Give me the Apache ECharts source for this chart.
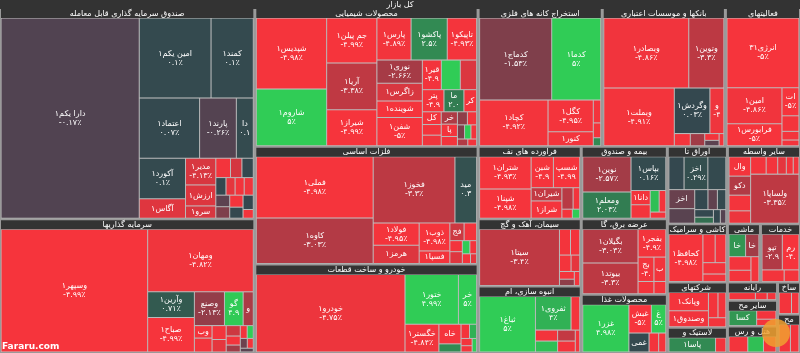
<!DOCTYPE html>
<html>
<head>
<meta charset="utf-8">
<script src="https://cdn.jsdelivr.net/npm/echarts@6/dist/echarts.min.js"></script>
<style>
html, body { margin: 0; padding: 0; background: #fff; }
#chart { width: 800px; height: 353px; }
</style>
</head>
<body>
<div id="chart"></div>
<script>
// every tile: [name, size, change %]; kept in the order the tiles are laid out
var etf = [
  ['دارا یکم۱', 27800, -0.17], ['امین یکم۱', 5767, 0.1], ['کمند۱', 3397, 0.1], ['اعتماد۱', 3648, 0.07],
  ['پارند۱', 2223, -0.26], ['دارا۱', 1026, 0.15], ['آکورد۱', 1887, 0.1], ['آگاس۱', 900, -4.33],
  ['مدیر۱', 812, -4.13], ['ارزش۱', 638, -4.28], ['سرو۱', 374, -4.12], ['', 286, -4.9],
  ['', 222, -4.0], ['', 222, 0.02], ['', 180, 0.05], ['', 161, -4.5], ['', 161, -4.9], ['', 161, -4.8],
  ['', 161, -0.5], ['', 161, -1.5], ['', 161, -4.9], ['', 148, 0.03], ['', 148, 0.01], ['', 90, -4.9]
];
var invest = [
  ['وسپهر۱', 18352, -4.99], ['ومهان۱', 6741, -4.82], ['وآرین۱', 1222, 0.71], ['صباح۱', 1645, -4.99],
  ['وصنعت۱', 1036, -2.13], ['گوهران۱', 644, 4.93], ['وسکاب۱', 350, -2.8], ['وبانک۱', 225, -4.9], ['', 250, -4.9],
  ['', 200, -4.9], ['', 180, -4.5], ['', 150, -3.8], ['', 130, -4.9], ['', 100, -2.5], ['', 90, -4.9],
  ['', 80, 5], ['', 70, -1], ['', 60, -4.9], ['', 50, -0.5]
];
var chem = [
  ['شپدیس۱', 4970, -4.98], ['شاروم۱', 3990, 5], ['جم پیلن۱', 2250, -4.99], ['آریا۱', 2350, -3.38],
  ['شیراز۱', 1800, -4.99], ['پارس۱', 1435, -4.89], ['پاکشو۱', 1517, 2.5], ['تاپیکو۱', 1230, -4.93],
  ['نوری۱', 1050, -2.66], ['زاگرس۱', 810, -4.13], ['شوینده۱', 750, -4.96], ['شفن۱', 1280, -5],
  ['قیر۱', 560, -4.9], ['', 560, 5], ['', 480, -4.2], ['پترول۱', 476, -4.9], ['مارون۱', 440, 2.03],
  ['کرماشا۱', 280, -4.9], ['کلر۱', 240, -4.9], ['', 200, -4.9], ['', 200, -4.8], ['خراسان۱', 200, -2.9],
  ['پارسان۱', 200, -4.9], ['', 150, -4.9], ['', 130, -2], ['', 120, -4.9], ['', 100, -1.5], ['', 90, 5],
  ['', 80, -4.9], ['', 70, -3], ['', 60, -4.9]
];
var metal = [
  ['فملی۱', 7254, -4.98], ['کاوه۱', 5382, -3.03], ['فخوز۱', 5478, -3.3], ['میدکو۱', 1452, 0.39],
  ['فولاد۱', 1035, -4.95], ['هرمز۱', 855, -4.28], ['ذوب۱', 870, -4.98], ['فسپا۱', 390, -4.9],
  ['فجر۱', 256, -3.8], ['', 224, -4.9], ['کویر۱', 140, -4.9], ['ارفع۱', 150, -4.3], ['', 100, 5],
  ['', 90, -4.9], ['', 80, -4.9], ['', 60, -4.5]
];
var auto = [
  ['خودرو۱', 11476, -4.75], ['ختور۱', 2650, 4.99], ['خرینگ۱', 900, 5], ['خگستر۱', 936, -4.84],
  ['خاهن۱', 432, -4.98], ['', 180, 2.5], ['', 120, -4.9], ['', 100, 4], ['', 80, -4.9], ['', 70, -4.9], ['', 60, 5]
];
var mining = [
  ['کدماج۱', 5904, -1.53], ['کدما۱', 4018, 5], ['کچاد۱', 3128, -4.92], ['کگل۱', 1440, -4.95],
  ['کنور۱', 630, -4.9], ['', 170, -4.9], ['', 110, -4.9], ['', 60, 2.5]
];
var bank = [
  ['وبصادر۱', 6090, -4.86], ['وتوین۱', 2520, -3.3], ['وبملت۱', 4161, -4.91], ['وگردش۱', 1653, 0.03],
  ['وپست۱', 651, -4.8], ['', 200, -4.9], ['', 180, -2.5], ['', 100, -4.9], ['', 80, -0.5], ['', 60, -4.9]
];
var finAux = [
  ['انرژی۳۱', 5106, -5], ['امین۱', 2016, -4.86], ['فرابورس۱', 1232, -5], ['اتوپر۱', 486, -5],
  ['', 270, -4.9], ['', 150, -4.9], ['', 100, -4.9]
];
var oil = [
  ['شتران۱', 1749, -4.93], ['شپنا۱', 1590, -4.98], ['شبندر۱', 726, -4.97], ['شسپا۱', 858, -4.99],
  ['شیران۱', 429, -3.5], ['شراز۱', 561, -4.95], ['شاوان۱', 255, -3.2], ['', 150, -4.9], ['', 100, -4.9], ['', 70, 5]
];
var insur = [
  ['نوین۱', 1764, -2.57], ['ومعلم۱', 1323, 2.03], ['بپاس۱', 1221, 0.16], ['دانا۱', 285, -4.9],
  ['', 270, -4.9], ['بساما۱', 200, 4.5], ['', 150, -4.9], ['', 100, -4.9]
];
var bonds = [
  ['', 528, 0.05], ['اخزا۷۲۱', 825, 0.29], ['', 627, 0.1], ['اخزا۸۱۵', 520, -0.89], ['', 400, -0.4],
  ['', 280, 0.02], ['', 200, -0.6], ['', 180, 0.1], ['', 150, 0.05], ['', 120, 1.5], ['', 100, 0.02], ['', 80, -0.3]
];
var finOther = [
  ['والبر۱', 420, -4.9], ['دکوثر۱', 414, -3.0], ['', 340, -4.9], ['', 270, -4.7], ['', 270, -4.9],
  ['', 200, -4.9], ['', 150, -4.5], ['', 120, -4.9], ['', 100, -4.9], ['ولساپا۱', 2380, -3.35]
];
var cement = [
  ['سیتا۱', 4730, -3.4], ['', 300, -4.9], ['', 250, -4.9], ['', 200, -4.9], ['', 150, -4.5],
  ['', 120, -4.9], ['', 100, -2], ['', 80, -4.9]
];
var power = [
  ['بگیلان۱', 1925, -3.03], ['بیوتد۱', 1760, -3.3], ['بفجر۱', 800, -4.9], ['بجهرم۱', 400, -4.9],
  ['بسن۱', 300, -4.9], ['', 200, -4.9], ['', 150, -4.9]
];
var estate = [
  ['ثباغ۱', 3192, 5], ['ثفروی۱', 1230, 4], ['', 300, -4.9], ['', 250, -4.9], ['', 250, 4.5],
  ['وآذر۱', 200, -3.5], ['', 200, -4.9], ['', 100, -4.9]
];
var food = [
  ['غزر۱', 2397, 4.98], ['غبشهر۱', 700, -5], ['غفاع۱', 450, 5], ['غمینو۱', 420, 0.1], ['', 200, -4.9], ['', 150, -4.9]
];
var tile = [
  ['کحافظ۱', 1849, -4.98], ['', 400, -4.9], ['', 350, -4.9], ['', 300, -4.9], ['', 200, -4.9]
];
var engServ = [
  ['تپولا۱', 836, -2.99], ['رمپنا۱', 684, -4.99], ['', 300, -4.9], ['', 200, -4.9]
];
var machine = [
  ['خاور۱', 374, 2.96], ['خاسا۱', 300, -2.5], ['', 300, -4.9], ['', 250, -4.9], ['', 200, -4.9]
];
var multi = [
  ['وپانک۱', 900, -4.93], ['وصندوق۱', 800, -4.85], ['', 300, -4.9], ['', 250, -4.9], ['', 200, -4.9]
];
var computer = [['آپ۱', 450, -4.9], ['', 200, -4.9], ['', 150, -4.9]];
var mineral = [['کساخت۱', 500, 3], ['', 200, -4.9], ['', 150, -4.9]];
var hotel = [['', 300, -4.9], ['', 250, 4.5], ['', 200, -4.9]];
var rubber = [['پاسا۱', 900, 2.5], ['', 200, -4.9]];
var metalProd = [['', 250, -4.9], ['', 150, -4.9]];
var paper = [['', 200, -4.9], ['', 150, -4.9]];

// sector name, tiles, whole box size (with its header)
var sectors = [
  ['صندوق سرمایه گذاری قابل معامله', etf, 53550],
  ['سرمایه گذاریها', invest, 33915],
  ['محصولات شیمیایی', chem, 30774],
  ['فلزات اساسی', metal, 26091],
  ['خودرو و ساخت قطعات', auto, 19624],
  ['استخراج کانه های فلزی', mining, 17112],
  ['بانکها و موسسات اعتباری', bank, 16974],
  ['فعالیتهای کمکی به نهادهای مالی', finAux, 10350],
  ['فراورده های نفتی، کک و سوخت هسته ای', oil, 7416],
  ['سیمان، آهک و گچ', cement, 6901],
  ['انبوه سازی، املاک و مستغلات', estate, 6798],
  ['بیمه و صندوق بازنشستگی به جز تامین اجتماعی', insur, 6192],
  ['عرضه برق، گاز، بخاروآب گرم', power, 6450],
  ['محصولات غذایی و آشامیدنی به جز قند و شکر', food, 4988],
  ['اوراق تامین مالی', bonds, 4620],
  ['سایر واسطه گریهای مالی', finOther, 5621],
  ['کاشی و سرامیک', tile, 3480],
  ['شرکتهای چند رشته ای صنعتی', multi, 2700],
  ['لاستیک و پلاستیک', rubber, 1500],
  ['ماشین آلات و تجهیزات', machine, 1914],
  ['خدمات فنی و مهندسی', engServ, 2320],
  ['رایانه و فعالیتهای وابسته به آن', computer, 900],
  ['سایر محصولات کانی غیرفلزی', mineral, 1290],
  ['هتل و رستوران', hotel, 1314],
  ['ساخت محصولات فلزی', metalProd, 730],
  ['محصولات کاغذی', paper, 876]
];

var faDigits = '۰۱۲۳۴۵۶۷۸۹';
function toFa(s) {
  return String(s).replace(/[0-9]/g, function (d) { return faDigits[+d]; });
}
function mix(a, b, t) {
  return 'rgb(' + [0, 1, 2].map(function (i) { return Math.round(a[i] + (b[i] - a[i]) * t); }).join(',') + ')';
}
function tileColor(ch) {
  var t = Math.min(Math.abs(ch) / 5, 1);
  if (ch < 0) return mix([75, 68, 82], [246, 52, 60], t);
  return mix([52, 71, 79], [48, 204, 86], t);
}

var children = sectors.map(function (s) {
  return {
    name: s[0],
    value: s[2],
    children: s[1].map(function (d) {
      return { name: d[0], value: d[1], change: d[2], itemStyle: { color: tileColor(d[2]) } };
    })
  };
});

var headLabel = {
  show: true, height: 9, color: '#fff', fontSize: 8, lineHeight: 9, position: 'inside',
  fontFamily: 'DejaVu Sans', overflow: 'truncate', ellipsis: '', backgroundColor: '#333'
};

var chart = echarts.init(document.getElementById('chart'));
chart.setOption({
  animation: false,
  graphic: [
    { type: 'text', left: 2, bottom: 2, z: 100,
      style: { text: 'Fararu.com', fill: '#fff', font: 'bold 9px "DejaVu Sans"' } },
    { type: 'circle', right: 10, bottom: 6, z: 100, shape: { r: 14 },
      style: { fill: '#f0a030', opacity: 0.85 } }
  ],
  series: [{
    type: 'treemap',
    left: 0, top: 0, width: 800, height: 353,
    roam: false, nodeClick: false, sort: false,
    breadcrumb: { show: false },
    label: {
      show: true, color: '#fff', fontSize: 8, lineHeight: 9,
      fontFamily: 'DejaVu Sans', padding: 1, overflow: 'truncate', ellipsis: '',
      formatter: function (p) {
        var d = p.data;
        if (d.children) return d.name;
        if (!d.name) return '';
        var pct = toFa(d.change) + '٪';
        if (d.value >= 400) return d.name + '\n' + pct;
        if (d.value >= 170) return d.name;
        return '';
      }
    },
    upperLabel: { show: false },
    levels: [
      { itemStyle: { borderWidth: 0, gapWidth: 0 }, upperLabel: { show: false } },
      { itemStyle: { borderColor: '#9a9a9a', borderWidth: 0, gapWidth: 1 }, upperLabel: headLabel },
      { itemStyle: { borderColor: '#9a9a9a', borderWidth: 1, gapWidth: 0 }, upperLabel: headLabel },
      { itemStyle: { borderColor: '#c4c4c4', borderWidth: 0.5, gapWidth: 0 } }
    ],
    data: [{ name: 'کل بازار', children: children }]
  }]
});
</script>
</body>
</html>
